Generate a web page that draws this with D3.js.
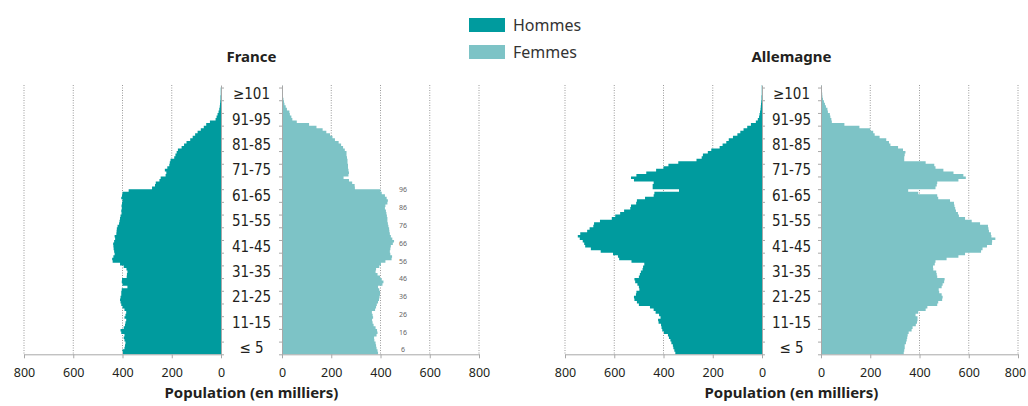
<!DOCTYPE html>
<html lang="fr">
<head>
<meta charset="utf-8">
<title>Pyramides des âges</title>
<script src="https://cdnjs.cloudflare.com/ajax/libs/d3/7.8.5/d3.min.js"></script>
<style>
  body { margin: 0; background: #fff; }
  text { fill: #231f20; }
  .tick text { font: 12.5px "Noto Sans", sans-serif; fill: #231f20; }
  .age { font: 15px "Liberation Sans Narrow", "DejaVu Sans Condensed", sans-serif; }
  .ttl { font: bold 15px "Noto Sans", sans-serif; }
</style>
</head>
<body>
<script>
// population by single year of age (0 .. 105), thousands
var frMen = [398,400,392,390,388,392,395,392,405,408,395,390,388,385,392,388,385,392,400,405,
  408,410,408,405,405,403,380,400,403,402,383,382,380,384,395,410,440,442,437,432,
  434,436,437,438,434,430,432,425,424,423,420,414,412,410,408,404,405,403,404,402,
  400,405,402,400,375,280,268,265,250,245,225,222,228,218,210,208,205,190,185,180,
  175,160,150,140,125,115,105,95,82,70,60,45,22,18,14,10,7,5,4,3,2,2,1,1,1,0];
var frWomen = [390,388,384,382,380,375,374,384,388,386,380,372,368,366,370,368,365,378,382,385,
  390,394,396,398,398,395,390,408,412,405,398,388,380,382,395,402,420,445,447,440,
  438,440,442,450,455,448,442,438,436,435,432,430,428,428,426,424,422,418,420,428,
  430,425,418,405,400,296,295,285,272,250,270,272,270,268,268,266,266,264,262,262,
  255,248,240,230,215,205,195,180,165,140,110,60,42,38,32,30,20,15,10,8,6,4,3,2,2,1];
var deMen = [352,356,360,362,368,372,378,382,398,405,408,410,420,422,412,418,432,440,455,500,
  508,518,520,512,510,498,500,506,515,518,500,496,492,485,483,478,530,580,585,605,
  655,695,718,722,728,740,748,738,710,700,685,682,658,610,596,576,560,535,532,511,
  508,475,440,437,337,444,444,440,520,532,510,470,430,400,380,340,266,245,240,220,
  206,172,160,145,135,118,100,88,75,60,45,25,17,12,10,8,6,5,4,3,2,2,1,1,1,1];
var deWomen = [336,338,340,340,345,348,350,352,356,368,372,385,390,392,392,384,395,425,432,472,
  476,492,494,490,480,478,490,494,500,502,472,470,468,456,455,462,465,510,558,585,
  650,656,674,694,695,708,692,690,682,680,678,646,612,585,560,556,548,545,542,540,
  524,476,472,395,354,465,470,472,558,588,578,538,497,465,460,425,338,338,340,343,
  333,313,282,276,265,238,218,212,200,156,95,44,42,38,36,28,26,20,16,12,8,6,5,4,3,2];

var ageLabels = ["\u2264 5","11-15","21-25","31-35","41-45","51-55","61-65","71-75","81-85","91-95","\u2265101"];
var ageLabelStart = [0,10,20,30,40,50,60,70,80,90,100];
var popTicks = [0,200,400,600,800];
var frSideLabels = ["96","86","76","66","56","46","36","26","16","6"];

var w = 1028, h = 406;
var yTop = 85, yBottom = 354.3;
var halfW = 197;

var svg = d3.select("body").append("svg")
    .attr("width", w)
    .attr("height", h);

var y = d3.scaleLinear().domain([0, frMen.length]).range([yBottom, yTop]);

var panels = [
  {name: "France", men: frMen, women: frWomen, mx0: 221, wx0: 282},
  {name: "Allemagne", men: deMen, women: deWomen, mx0: 762, wx0: 821}
];

// each age becomes a step: bottom and top of its band
function steps(values){
  var pts = [];
  values.forEach(function(v, i){
    pts.push({age: i, v: v});
    pts.push({age: i + 1, v: v});
  });
  return pts;
}

panels.forEach(function(p){
  var xm = d3.scaleLinear().domain([0, 800]).range([p.mx0, p.mx0 - halfW]);
  var xw = d3.scaleLinear().domain([0, 800]).range([p.wx0, p.wx0 + halfW]);
  var cx = (p.mx0 + p.wx0) / 2;
  var g = svg.append("g");

  // dotted grid
  [xm, xw].forEach(function(sc){
    g.selectAll(null)
      .data(popTicks.slice(1))
      .enter()
      .append("line")
      .attr("x1", function(d){ return sc(d); })
      .attr("x2", function(d){ return sc(d); })
      .attr("y1", yTop)
      .attr("y2", yBottom)
      .attr("stroke", "#9a9a9a")
      .attr("stroke-width", 1)
      .attr("stroke-dasharray", "1,1.5");
  });

  var areaM = d3.area()
    .y(function(d){ return y(d.age); })
    .x0(xm(0))
    .x1(function(d){ return xm(d.v); });
  var areaW = d3.area()
    .y(function(d){ return y(d.age); })
    .x0(xw(0))
    .x1(function(d){ return xw(d.v); });

  g.append("path")
    .datum(steps(p.men))
    .attr("d", areaM)
    .attr("fill", "#009b9e");

  g.append("path")
    .datum(steps(p.women))
    .attr("d", areaW)
    .attr("fill", "#7dc3c6");

  // centre axes with 5-year ticks
  var ageTicks = d3.range(0, frMen.length + 1, 5);
  var ya = d3.axisRight(y).tickValues(ageTicks).tickSize(3).tickFormat("").tickSizeOuter(0);
  var yb = d3.axisLeft(y).tickValues(ageTicks).tickSize(3).tickFormat("").tickSizeOuter(0);
  g.append("g").attr("transform", "translate(" + p.mx0 + ",0)").call(ya);
  g.append("g").attr("transform", "translate(" + p.wx0 + ",0)").call(yb);

  // bottom axes
  var axm = d3.axisBottom(xm).tickValues(popTicks).tickSize(4).tickSizeOuter(0).tickPadding(10);
  var axw = d3.axisBottom(xw).tickValues(popTicks).tickSize(4).tickSizeOuter(0).tickPadding(10);
  g.append("g").attr("transform", "translate(0," + yBottom + ")").call(axm);
  var gw = g.append("g").attr("transform", "translate(0," + yBottom + ")").call(axw);
  // keep the last label inside the page
  gw.selectAll(".tick text").filter(function(d){ return d === 800 && p.wx0 + halfW > w - 14; })
    .attr("dx", -3);

  g.selectAll(".domain, .tick line").attr("stroke", "#a8a8a8");

  g.selectAll(".al")
    .data(ageLabels)
    .enter()
    .append("text")
    .attr("class", "age")
    .attr("x", cx)
    .attr("y", function(d, i){ return y(ageLabelStart[i] + 2.5); })
    .attr("dy", "0.35em")
    .attr("text-anchor", "middle")
    .text(function(d){ return d; });

  g.append("text")
    .attr("class", "ttl")
    .attr("x", cx)
    .attr("y", 62)
    .attr("text-anchor", "middle")
    .text(p.name);

  g.append("text")
    .attr("class", "ttl")
    .attr("x", cx)
    .attr("y", 398)
    .attr("text-anchor", "middle")
    .text("Population (en milliers)");
});

// stray side labels next to the French pyramid
var sy = d3.scalePoint().domain(frSideLabels).range([190, 350]);
svg.selectAll(".side")
  .data(frSideLabels)
  .enter()
  .append("text")
  .attr("x", 403)
  .attr("y", function(d){ return sy(d); })
  .attr("dy", "0.35em")
  .attr("text-anchor", "middle")
  .style("font", "7px 'Noto Sans', sans-serif")
  .style("fill", "#666")
  .text(function(d){ return d; });

// legend
var legend = [{k: "Hommes", c: "#009b9e"}, {k: "Femmes", c: "#7dc3c6"}];
var lg = svg.selectAll(".lg")
  .data(legend)
  .enter()
  .append("g")
  .attr("transform", function(d, i){ return "translate(469," + (18 + i * 27) + ")"; });
lg.append("rect")
  .attr("width", 36)
  .attr("height", 14)
  .attr("fill", function(d){ return d.c; });
lg.append("text")
  .attr("x", 44)
  .attr("y", 7)
  .attr("dy", "0.35em")
  .style("font", "16px 'Noto Sans', sans-serif")
  .style("fill", "#333")
  .text(function(d){ return d.k; });
</script>
</body>
</html>
